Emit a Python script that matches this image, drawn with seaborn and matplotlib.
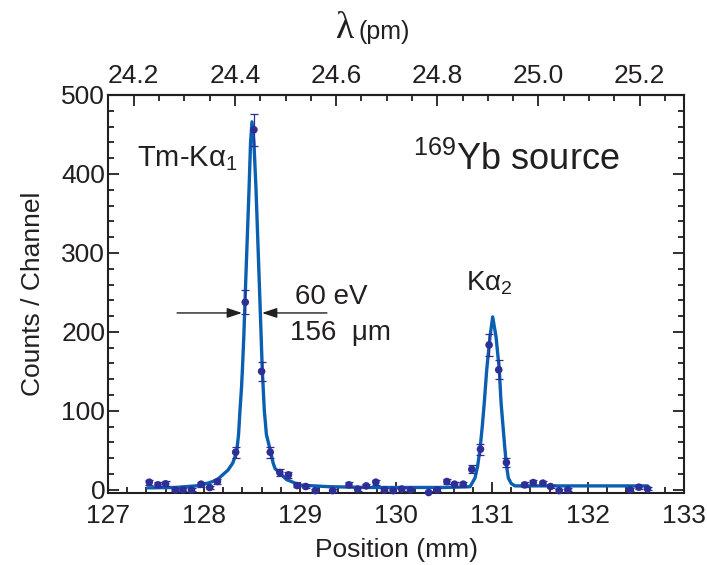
import matplotlib
matplotlib.use("Agg")
import matplotlib.pyplot as plt
import seaborn as sns
import numpy as np
import pandas as pd
from matplotlib.ticker import MultipleLocator, FixedLocator

# ---------------- data ----------------
pos_mm = [127.43, 127.52, 127.60, 127.70, 127.78, 127.87, 127.97, 128.06, 128.14, 128.33,
          128.43, 128.52, 128.60, 128.69, 128.79, 128.88, 128.97, 129.06, 129.16, 129.34,
          129.51, 129.60, 129.69, 129.79, 129.88, 129.97, 130.06, 130.15, 130.34, 130.43,
          130.53, 130.61, 130.70, 130.79, 130.88, 130.97, 131.07, 131.15, 131.34, 131.43,
          131.53, 131.61, 131.70, 131.79, 132.44, 132.53, 132.62]
counts = [9.7, 6.3, 7.6, 0, 0, 0, 7.2, 2.9, 10.5, 47.7,
          237.6, 456, 150, 47.7, 21.9, 19, 5.4, 4.2, -1, -1,
          6.3, 1, 5, 9.7, 0, -1, 1, 0, -3.4, 0,
          10.5, 7.2, 7.2, 26, 51.5, 183.5, 152, 34.6, 6.3, 9.2,
          8.5, 4.2, -1, 0, 0, 3.4, 1.3]
count_err = [3, 3, 3, 2, 2, 2, 3, 2, 3, 7,
             15, 20, 12, 7, 5, 4, 2, 2, 2, 2,
             3, 2, 2, 3, 2, 2, 2, 2, 2, 2,
             3, 3, 3, 5, 7, 14, 12, 6, 3, 3,
             3, 2, 2, 2, 2, 2, 2]

fit_pos = [127.41, 127.70, 127.96, 128.13, 128.25, 128.30, 128.34, 128.36, 128.375, 128.39,
           128.40, 128.415, 128.427, 128.445, 128.469, 128.485, 128.50, 128.52, 128.542, 128.565,
           128.583, 128.595, 128.607, 128.617, 128.628, 128.65, 128.695, 128.72, 128.74, 128.86,
           129.00, 129.30, 129.70, 130.10, 130.50, 130.771, 130.823, 130.85, 130.875, 130.90,
           130.92, 130.945, 130.979, 131.007, 131.042, 131.076, 131.094, 131.115, 131.135, 131.15,
           131.17, 131.20, 131.24, 131.60, 132.10, 132.62]
fit_counts = [2.5, 3, 5.5, 12, 25, 34, 48, 70, 101, 128,
              152, 195, 238, 300, 380, 440, 466, 440, 380, 300,
              238, 195, 152, 128, 101, 70, 48, 34, 27, 13,
              6, 4, 3, 3, 3, 4, 15, 30, 51, 82,
              111, 152, 194, 219, 194, 152, 111, 80, 51, 32,
              15, 8, 5, 5, 5, 5]

x_ticks = [127, 128, 129, 130, 131, 132, 133]
y_ticks = [0, 100, 200, 300, 400, 500]
lam_ticks = [24.2, 24.4, 24.6, 24.8, 25.0, 25.2]
lam_labels = ["24.2", "24.4", "24.6", "24.8", "25.0", "25.2"]

LAM_REF, POS_REF, MM_PER_PM = 24.2, 127.268, 5.27

pts = pd.DataFrame({"pos": pos_mm, "counts": counts, "err": count_err})
fit = pd.DataFrame({"pos": fit_pos, "counts": fit_counts})

# ---------------- style ----------------
sns.set_style("ticks")
plt.rcParams["font.family"] = ["Liberation Sans", "DejaVu Sans"]
plt.rcParams["mathtext.fontset"] = "custom"
plt.rcParams["mathtext.rm"] = "Liberation Sans"
plt.rcParams["mathtext.it"] = "Liberation Sans:italic"
plt.rcParams["axes.linewidth"] = 1.5

POINT_C = "#2e2f96"
LINE_C = "#0a5fb2"
TXT_C = "#231f20"

fig = plt.figure(figsize=(7.07, 5.65), dpi=100)
ax = fig.add_axes([108 / 707, 1 - 493 / 565, (684 - 108) / 707, (493 - 95) / 565])

sns.lineplot(data=fit, x="pos", y="counts", ax=ax, color=LINE_C, linewidth=2.4,
             sort=False, zorder=2)
ax.errorbar(pts["pos"], pts["counts"], yerr=pts["err"], fmt="none",
            ecolor=POINT_C, elinewidth=0.9, capsize=3, capthick=0.9, zorder=3)
sns.scatterplot(data=pts, x="pos", y="counts", ax=ax, color=POINT_C, s=30,
                edgecolor="none", zorder=4, clip_on=False)

ax.set_xlim(127, 133)
ax.set_ylim(-4, 500)
ax.xaxis.set_major_locator(FixedLocator(x_ticks))
ax.xaxis.set_minor_locator(MultipleLocator(0.2))
ax.yaxis.set_major_locator(FixedLocator(y_ticks))
ax.yaxis.set_minor_locator(MultipleLocator(20))
ax.tick_params(which="both", direction="in", top=False, right=True,
               width=1.3, colors=TXT_C, labelsize=19, labelcolor=TXT_C)
ax.tick_params(which="major", length=8)
ax.tick_params(which="minor", length=4.5)
ax.tick_params(axis="x", pad=8)
ax.tick_params(axis="y", pad=2)
for sp in ax.spines.values():
    sp.set_visible(True)
    sp.set_color(TXT_C)

ax.set_xlabel("Position (mm)", fontsize=19, color=TXT_C, labelpad=7)
ax.set_ylabel("Counts / Channel", fontsize=19, color=TXT_C, labelpad=12)

def pos2lam(p):
    return LAM_REF + (np.asarray(p) - POS_REF) / MM_PER_PM

def lam2pos(l):
    return POS_REF + (np.asarray(l) - LAM_REF) * MM_PER_PM

sec = ax.secondary_xaxis("top", functions=(pos2lam, lam2pos))
sec.xaxis.set_major_locator(FixedLocator(lam_ticks))
sec.set_xticklabels(lam_labels)
sec.xaxis.set_minor_locator(MultipleLocator(0.05))
sec.tick_params(which="both", direction="in", width=1.3, colors=TXT_C,
                labelsize=19, labelcolor=TXT_C, pad=5)
sec.tick_params(which="major", length=8)
sec.tick_params(which="minor", length=4.5)
sec.spines["top"].set_linewidth(1.5)

fig.text(345 / 707, 1 - 29 / 565, "λ", fontsize=27, family=["Liberation Serif", "DejaVu Serif"],
         color=TXT_C, ha="center", va="center")
fig.text(358 / 707, 1 - 32 / 565, "(pm)", fontsize=18, color=TXT_C, ha="left", va="center")

# annotations
ax.text(127.30, 420, "Tm-Kα$_1$", fontsize=21, color=TXT_C, ha="left", va="center")
ax.text(130.73, 261, "Kα$_2$", fontsize=20, color=TXT_C, ha="left", va="center")
ax.text(130.18, 405, "$^{169}$Yb source", fontsize=26, color=TXT_C, ha="left", va="baseline")
ax.text(128.95, 244, "60 eV", fontsize=20, color=TXT_C, ha="left", va="center")
ax.text(128.90, 199, "156  μm", fontsize=20, color=TXT_C, ha="left", va="center")

arrow_kw = dict(arrowstyle="-|>,head_length=0.9,head_width=0.3", color=TXT_C, lw=1.0,
                shrinkA=0, shrinkB=0)
ax.annotate("", xy=(128.396, 224), xytext=(127.72, 224), arrowprops=arrow_kw)
ax.annotate("", xy=(128.604, 224), xytext=(129.28, 224), arrowprops=arrow_kw)

fig.savefig("out.png", dpi=100)
